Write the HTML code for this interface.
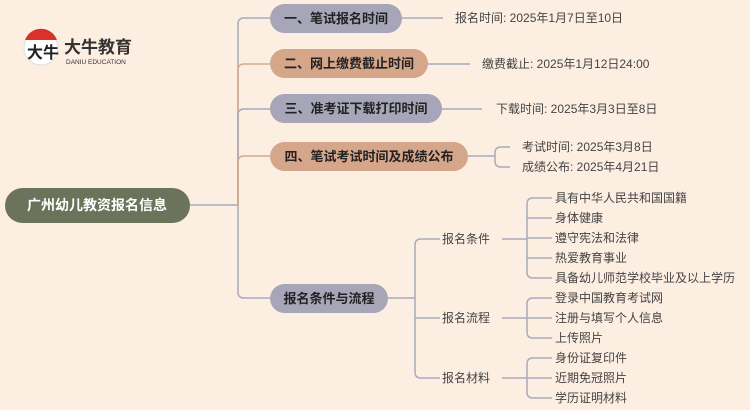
<!DOCTYPE html>
<html><head><meta charset="utf-8"><style>
body{margin:0;background:#fdeee2;}
svg{display:block;font-family:"Liberation Sans","Noto Sans CJK SC",sans-serif;}
.b{font-weight:bold;font-size:13px;fill:#222;}
.t{font-size:12px;fill:#444;}
</style></head><body>
<svg width="750" height="410" viewBox="0 0 750 410">
<rect width="750" height="410" fill="#fdeee2"/>
<!-- logo -->
<circle cx="41" cy="48" r="17" fill="#fff" stroke="#ddd"/>
<path d="M25 40 A17 17 0 0 1 57 40 Z" fill="#d8322c"/>
<text x="27" y="58" font-size="16" fill="#222" font-weight="bold">大牛</text>
<text x="64" y="53" font-size="17" font-weight="bold" fill="#333">大牛教育</text>
<text x="66" y="64" font-size="6.5" fill="#333">DANIU EDUCATION</text>
<!-- connectors -->
<g fill="none" stroke-width="1.5">
<path d="M190 205 H238" stroke="#a9a9bd"/>
<path d="M238 205 V24 Q238 18 244 18 H270" stroke="#a9a9bd"/>
<path d="M238 205 V70 Q238 64 244 64 H270" stroke="#d7a88c"/>
<path d="M238 205 V115 Q238 109 244 109 H270" stroke="#a9a9bd"/>
<path d="M238 205 V162 Q238 156 244 156 H270" stroke="#d7a88c"/>
<path d="M238 205 V292 Q238 298 244 298 H270" stroke="#a9a9bd"/>
<g stroke="#a9a9bd">
<path d="M402 18 H443"/><path d="M428 64 H470"/><path d="M442 109 H482"/>
<path d="M468 156 H495 M510 147 H501 Q495 147 495 153 V161 Q495 167 501 167 H510"/>
<path d="M388 298 H415 M440 239 H421 Q415 239 415 245 V372 Q415 378 421 378 H440 M415 318 H440"/>
<path d="M502 239 H527 M552 198 H533 Q527 198 527 204 V272 Q527 278 533 278 H552 M527 218 H552 M527 238 H552 M527 258 H552"/>
<path d="M502 318 H527 M552 298 H533 Q527 298 527 304 V332 Q527 338 533 338 H552 M527 318 H552"/>
<path d="M502 378 H527 M552 358 H533 Q527 358 527 364 V392 Q527 398 533 398 H552 M527 378 H552"/>
</g></g>
<!-- root -->
<rect x="5" y="188" width="185" height="35" rx="17.5" fill="#6b735a"/>
<text x="97" y="210" text-anchor="middle" font-size="14" font-weight="bold" fill="#fff">广州幼儿教资报名信息</text>
<!-- branches -->
<rect x="270" y="4" width="132" height="29" rx="14.5" fill="#a6a6b8"/>
<text x="336" y="23" text-anchor="middle" class="b">一、笔试报名时间</text>
<rect x="270" y="49" width="158" height="29" rx="14.5" fill="#d6a68b"/>
<text x="349" y="68" text-anchor="middle" class="b">二、网上缴费截止时间</text>
<rect x="270" y="94" width="172" height="29" rx="14.5" fill="#a6a6b8"/>
<text x="356" y="113" text-anchor="middle" class="b">三、准考证下载打印时间</text>
<rect x="270" y="142" width="198" height="29" rx="14.5" fill="#d6a68b"/>
<text x="369" y="161" text-anchor="middle" class="b">四、笔试考试时间及成绩公布</text>
<rect x="270" y="284" width="118" height="29" rx="14.5" fill="#a6a6b8"/>
<text x="329" y="303" text-anchor="middle" class="b">报名条件与流程</text>
<!-- leaves -->
<g class="t">
<text x="455" y="22">报名时间: 2025年1月7日至10日</text>
<text x="482" y="68">缴费截止: 2025年1月12日24:00</text>
<text x="496" y="113">下载时间: 2025年3月3日至8日</text>
<text x="522" y="151">考试时间: 2025年3月8日</text>
<text x="522" y="171">成绩公布: 2025年4月21日</text>
<text x="442" y="243">报名条件</text>
<text x="442" y="322">报名流程</text>
<text x="442" y="382">报名材料</text>
<text x="555" y="202">具有中华人民共和国国籍</text>
<text x="555" y="222">身体健康</text>
<text x="555" y="242">遵守宪法和法律</text>
<text x="555" y="262">热爱教育事业</text>
<text x="555" y="282">具备幼儿师范学校毕业及以上学历</text>
<text x="555" y="302">登录中国教育考试网</text>
<text x="555" y="322">注册与填写个人信息</text>
<text x="555" y="342">上传照片</text>
<text x="555" y="362">身份证复印件</text>
<text x="555" y="382">近期免冠照片</text>
<text x="555" y="402">学历证明材料</text>
</g>
</svg>
</body></html>
